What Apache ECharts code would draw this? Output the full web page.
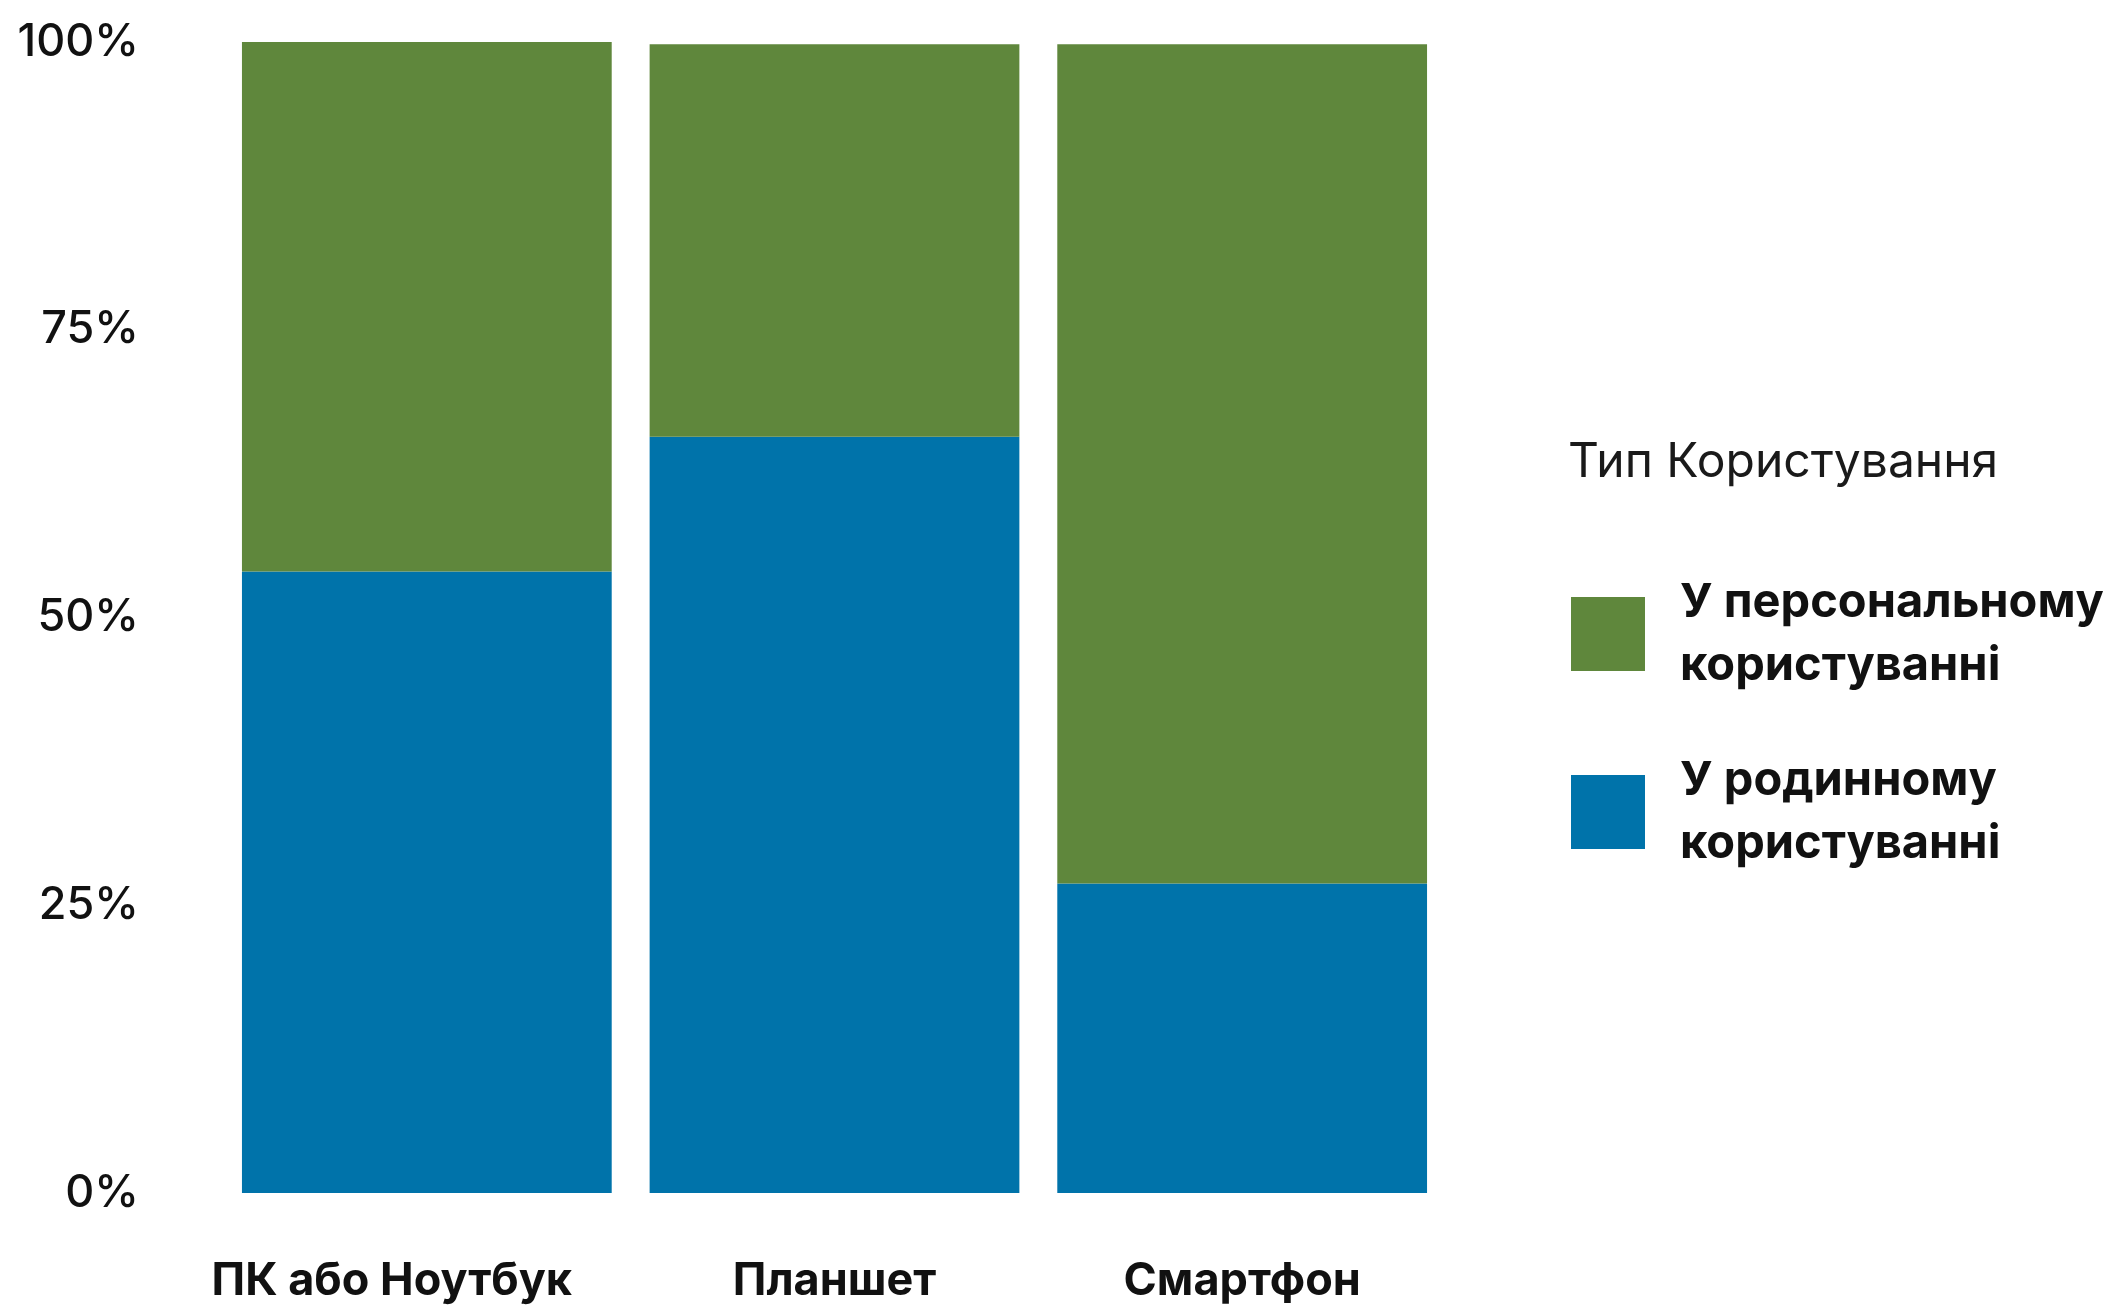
<!DOCTYPE html>
<html>
<head>
<meta charset="utf-8">
<script src="https://cdn.jsdelivr.net/npm/echarts@6/dist/echarts.min.js"></script>
<style>
html,body{margin:0;padding:0;background:#fff;}
#chart{width:2117px;height:1307px;}
</style>
</head>
<body>
<div id="chart"></div>
<script>
const categories = ['ПК або Ноутбук', 'Планшет', 'Смартфон'];
const familyUse = [54.0, 65.7, 26.9];
const personalUse = [46.0, 34.1, 72.9];
const yTicks = [0, 25, 50, 75, 100];
const seriesNames = ['У родинному\nкористуванні', 'У персональному\nкористуванні'];
const legendTitle = 'Тип Користування';

const FONT = 'Inter, "Noto Sans", sans-serif';
const chart = echarts.init(document.getElementById('chart'));
chart.setOption({
  backgroundColor: '#ffffff',
  animation: false,
  title: {
    text: legendTitle,
    left: 1563,
    top: 434,
    textStyle: { fontFamily: FONT, fontSize: 48, fontWeight: 'normal', color: '#1a1a1a' }
  },
  legend: {
    orient: 'vertical',
    left: 1566,
    top: 566,
    itemWidth: 74,
    itemHeight: 74,
    itemGap: 52,
    icon: 'rect',
    data: [seriesNames[1], seriesNames[0]],
    textStyle: { fontFamily: FONT, fontSize: 47, fontWeight: 'bold', color: '#111', lineHeight: 63, padding: [0, 0, 0, 30] }
  },
  grid: { left: 223, right: 671, top: 42, bottom: 114, containLabel: false },
  xAxis: {
    type: 'category',
    data: categories,
    axisLine: { show: false },
    axisTick: { show: false },
    axisLabel: {
      margin: 66,
      formatter: (v, i) => i === 0 ? '{a|' + v + '}' : '{b|' + v + '}',
      rich: {
        a: { fontFamily: FONT, fontSize: 45, fontWeight: 'bold', color: '#111', padding: [0, 70, 0, 0] },
        b: { fontFamily: FONT, fontSize: 45, fontWeight: 'bold', color: '#111' }
      }
    }
  },
  yAxis: {
    type: 'value',
    min: 0,
    max: 100,
    interval: 25,
    axisLine: { show: false },
    axisTick: { show: false },
    splitLine: { show: false },
    axisLabel: {
      margin: 84,
      formatter: v => yTicks.includes(v) ? v + '%' : '',
      fontFamily: FONT, fontSize: 45, fontWeight: 500, color: '#111'
    }
  },
  series: [
    {
      name: seriesNames[0],
      type: 'bar',
      stack: 'total',
      data: familyUse,
      barCategoryGap: '9.3%',
      itemStyle: { color: '#0073aa' }
    },
    {
      name: seriesNames[1],
      type: 'bar',
      stack: 'total',
      data: personalUse,
      barCategoryGap: '9.3%',
      itemStyle: { color: '#5f873c' }
    }
  ]
});
</script>
</body>
</html>
